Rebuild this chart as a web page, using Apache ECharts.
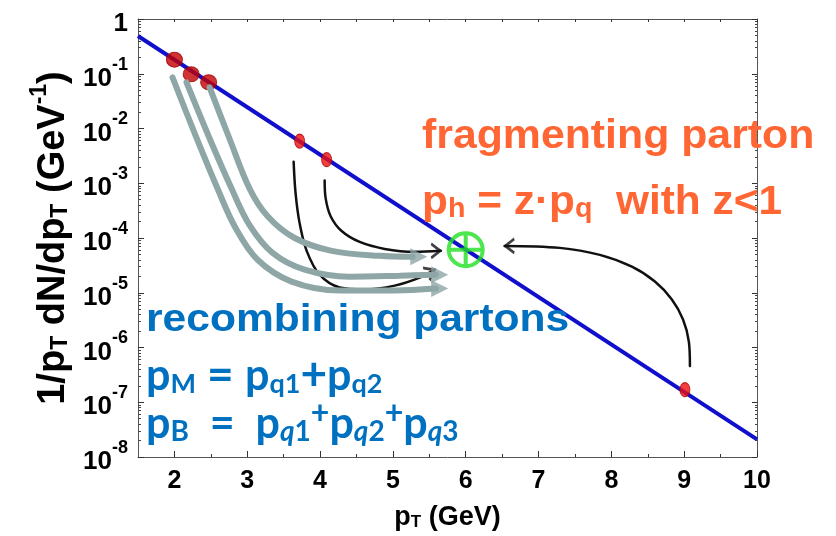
<!DOCTYPE html>
<html><head><meta charset="utf-8">
<script src="https://cdn.jsdelivr.net/npm/echarts@6/dist/echarts.min.js"></script>
<style>html,body{margin:0;padding:0;background:#fff}#c{width:836px;height:536px}</style>
</head><body><div id="c"></div>
<script>
// ---------- data ----------
const xMin = 1.5, xMax = 10;
const yMin = 1e-8, yMax = 1;
const xTickValues = [2, 3, 4, 5, 6, 7, 8, 9, 10];
const xTickLabels = ['2', '3', '4', '5', '6', '7', '8', '9', '10'];
const xHalfTicks = [2.5, 3.5, 4.5, 5.5, 6.5, 7.5, 8.5, 9.5];
const yDecadeExponents = [-8, -7, -6, -5, -4, -3, -2, -1, 0];

// spectrum line (straight on log scale)
const spectrumX = [1.5, 10];
const spectrumY = [0.49, 2.1e-8];

// partons on the spectrum
const partonX = [2.0, 2.23, 2.47, 3.72, 4.09, 9.01];
const partonY = [0.181, 0.098, 0.070, 5.9e-3, 2.7e-3, 1.7e-7];

// hadron marker
const hadronX = [6.0];
const hadronY = [6.1e-5];

// annotation arrow paths [pT, value]
const grayArrowA = [[1.974, 0.0855], [2.276, 8.3e-3], [2.592, 8.0e-4], [2.840, 1.52e-4], [3.142, 4.0e-5], [3.609, 1.60e-5], [4.269, 1.10e-5], [5.025, 1.10e-5], [5.588, 1.19e-5]];
const grayArrowB = [[2.166, 0.0695], [2.469, 7.3e-3], [2.785, 8.0e-4], [3.032, 1.72e-4], [3.348, 5.35e-5], [3.788, 2.64e-5], [4.406, 1.97e-5], [5.094, 2.05e-5], [5.588, 2.14e-5]];
const grayArrowC = [[2.483, 0.0564], [2.757, 6.5e-3], [3.032, 8.0e-4], [3.280, 2.50e-4], [3.651, 1.0e-4], [4.159, 5.82e-5], [4.819, 4.72e-5], [5.272, 4.53e-5]];
const grayHeads = [[5.643, 1.19e-5], [5.643, 2.14e-5], [5.355, 4.53e-5]];

const blackArrowD = [[3.637, 2.48e-3], [3.664, 6.52e-4], [3.719, 1.87e-4], [3.816, 5.82e-5], [3.994, 2.14e-5], [4.269, 1.25e-5], [4.613, 1.15e-5], [5.025, 1.35e-5], [5.368, 1.89e-5], [5.574, 2.64e-5]];
const blackArrowE = [[4.063, 1.12e-3], [4.077, 5.3e-4], [4.145, 2.50e-4], [4.296, 1.34e-4], [4.544, 8.47e-5], [4.887, 6.32e-5], [5.300, 5.58e-5], [5.657, 5.82e-5]];
const blackArrowF = [[9.079, 4.6e-7], [9.065, 1.26e-6], [8.983, 3.28e-6], [8.831, 7.55e-6], [8.598, 1.60e-5], [8.282, 2.99e-5], [7.842, 4.92e-5], [7.292, 6.6e-5], [6.536, 7.16e-5]];
const blackHeads = [[5.514, 2.39e-5], [5.588, 5.82e-5], [6.605, 7.16e-5]];
const blackHeadAngles = [28, 0, 180];

// ---------- styling ----------
const FONT = '"Liberation Sans", Arial, Helvetica, sans-serif';
const RFONT = 'Lato, "Open Sans", sans-serif';
const BLUE_TXT = '#0070c0';
const ORANGE = '#ff6633';
const GRAY = '#8ea6a6';

const yMinorExp = [];
for (let e = -8; e < 0; e++) for (let k = 2; k <= 9; k++) yMinorExp.push(e + Math.log10(k));

const axisRich = {
  b: { fontFamily: FONT, fontWeight: 'bold', fontSize: 26, lineHeight: 36, color: '#000', verticalAlign: 'bottom' },
  s: { fontFamily: FONT, fontWeight: 'bold', fontSize: 18, lineHeight: 18, color: '#000', verticalAlign: 'top' }
};

const partonData = partonX.map((x, i) => {
  const big = i < 3;
  return {
    value: [x, partonY[i]],
    symbolSize: big ? [16, 15] : [10, 14],
    itemStyle: big ? { color: '#c40000', borderColor: '#a00000', borderWidth: 1 }
                   : { color: '#ee1010', borderColor: '#b00000', borderWidth: 1 }
  };
});

function arrowLine(data, color, width, z) {
  return { type: 'line', data: data, smooth: 0.35, symbol: 'none', silent: true, z: z,
           lineStyle: { color: color, width: width, cap: 'round' } };
}

const chart = echarts.init(document.getElementById('c'), null, { renderer: 'canvas' });

const option = {
  backgroundColor: '#ffffff',
  animation: false,
  grid: { left: 138, right: 79, top: 19, bottom: 75, containLabel: false },
  xAxis: [
    { type: 'value', min: xMin, max: xMax, position: 'bottom',
      axisLine: { show: true, onZero: false, lineStyle: { color: '#555', width: 1 } },
      axisTick: { show: true, inside: true, length: 6, customValues: xTickValues, lineStyle: { color: '#333' } },
      axisLabel: { customValues: xTickValues, margin: 12, fontFamily: FONT, fontWeight: 'bold', fontSize: 25, color: '#000',
                   formatter: v => xTickLabels[xTickValues.indexOf(v)] },
      splitLine: { show: false },
      name: '{b|p}{s|T}{b| (GeV)}', nameLocation: 'middle', nameGap: 42,
      nameTextStyle: { rich: {
        b: { fontFamily: FONT, fontWeight: 'bold', fontSize: 27, lineHeight: 32, color: '#000', verticalAlign: 'bottom' },
        s: { fontFamily: FONT, fontWeight: 'bold', fontSize: 17, lineHeight: 15, color: '#000', verticalAlign: 'bottom' } } } },
    { type: 'value', min: xMin, max: xMax, position: 'bottom',
      axisLine: { show: false, onZero: false },
      axisTick: { show: true, inside: true, length: 3, customValues: xHalfTicks, lineStyle: { color: '#333' } },
      axisLabel: { show: false }, splitLine: { show: false } },
    { type: 'value', min: xMin, max: xMax, position: 'top',
      axisLine: { show: true, onZero: false, lineStyle: { color: '#555', width: 1 } },
      axisTick: { show: true, inside: true, length: 3, customValues: xTickValues.concat(xHalfTicks), lineStyle: { color: '#333' } },
      axisLabel: { show: false }, splitLine: { show: false } }
  ],
  yAxis: [
    { type: 'log', logBase: 10, min: yMin, max: yMax, position: 'left',
      axisLine: { show: true, onZero: false, lineStyle: { color: '#555', width: 1 } },
      axisTick: { show: true, inside: true, length: 6, lineStyle: { color: '#333' } },
      axisLabel: { margin: 10, rich: axisRich,
        formatter: v => { const e = Math.round(Math.log10(v)); return e === 0 ? '{b|1}' : '{b|10}{s|' + e + '}'; } },
      splitLine: { show: false },
      name: '{b|1/p}{s|T}{b| dN/dp}{s|T}{b| (GeV}{p|-1}{b|)}', nameLocation: 'middle', nameGap: 60, nameRotate: 90,
      nameTextStyle: { rich: {
        b: { fontFamily: FONT, fontWeight: 'bold', fontSize: 38, lineHeight: 44, color: '#000', verticalAlign: 'bottom' },
        s: { fontFamily: FONT, fontWeight: 'bold', fontSize: 23, lineHeight: 19, color: '#000', verticalAlign: 'bottom' },
        p: { fontFamily: FONT, fontWeight: 'bold', fontSize: 23, lineHeight: 22, color: '#000', verticalAlign: 'top' } } } },
    { type: 'value', min: -8, max: 0, position: 'left',
      axisLine: { show: false, onZero: false },
      axisTick: { show: true, inside: true, length: 3, customValues: yMinorExp, lineStyle: { color: '#444' } },
      axisLabel: { show: false }, splitLine: { show: false } },
    { type: 'value', min: -8, max: 0, position: 'right',
      axisLine: { show: true, onZero: false, lineStyle: { color: '#555', width: 1 } },
      axisTick: { show: true, inside: true, length: 5, customValues: yDecadeExponents, lineStyle: { color: '#333' } },
      axisLabel: { show: false }, splitLine: { show: false } },
    { type: 'value', min: -8, max: 0, position: 'right',
      axisLine: { show: false, onZero: false },
      axisTick: { show: true, inside: true, length: 2, customValues: yMinorExp, lineStyle: { color: '#444' } },
      axisLabel: { show: false }, splitLine: { show: false } }
  ],
  series: [
    { type: 'line', data: spectrumX.map((x, i) => [x, spectrumY[i]]), symbol: 'none', z: 2, silent: true,
      lineStyle: { color: '#1010cc', width: 4 } },
    { type: 'scatter', z: 3, silent: true,
      data: hadronX.map((x, i) => [x, hadronY[i]]),
      symbol: 'path://M16,0A16,16,0,1,1,-16,0A16,16,0,1,1,16,0Z M-16,0L16,0 M0,-16L0,16',
      symbolSize: [34, 33],
      itemStyle: { color: 'rgba(0,0,0,0)', borderColor: '#22e022', borderWidth: 4 } },
    { type: 'scatter', z: 4, silent: true, data: partonData, symbol: 'circle' },
    arrowLine(blackArrowD, '#111', 2.5, 5),
    arrowLine(blackArrowE, '#111', 2.5, 5),
    arrowLine(blackArrowF, '#111', 2.5, 5),
    { type: 'scatter', z: 5, silent: true,
      data: blackHeads.map((p, i) => ({ value: p, symbolRotate: blackHeadAngles[i] })),
      symbol: 'path://M0,0L10,10L0,20', symbolSize: [9, 14],
      itemStyle: { color: 'rgba(0,0,0,0)', borderColor: '#111', borderWidth: 2.5 } },
    arrowLine(grayArrowA, GRAY, 6, 6),
    arrowLine(grayArrowB, GRAY, 6, 6),
    arrowLine(grayArrowC, GRAY, 6, 6),
    { type: 'scatter', z: 6, silent: true,
      data: grayHeads.map(p => ({ value: p, symbolRotate: -90 })),
      symbol: 'triangle', symbolSize: [17, 17],
      itemStyle: { color: GRAY } }
  ],
  graphic: [
    { type: 'text', x: 422, y: 137, scaleX: 1.07, z: 100, silent: true,
      style: { text: 'fragmenting parton', fill: ORANGE, fontFamily: FONT, fontWeight: 'bold', fontSize: 40, verticalAlign: 'middle', align: 'left' } },
    { type: 'text', x: 422, y: 199, scaleX: 1.06, z: 100, silent: true,
      style: { text: '{m|p}{s|h}{m| = z·p}{s|q}{m|  with z<1}', verticalAlign: 'middle', align: 'left',
        rich: {
          m: { fill: ORANGE, fontFamily: FONT, fontWeight: 'bold', fontSize: 40, lineHeight: 48, verticalAlign: 'bottom' },
          s: { fill: ORANGE, fontFamily: FONT, fontWeight: 'bold', fontSize: 27, lineHeight: 24, verticalAlign: 'bottom' } } } },
    { type: 'text', x: 146, y: 321, scaleX: 1.12, z: 100, silent: true,
      style: { text: 'recombining partons', fill: BLUE_TXT, fontFamily: FONT, fontWeight: 'bold', fontSize: 38, verticalAlign: 'middle', align: 'left' } },
    { type: 'text', x: 146, y: 374, z: 100, silent: true,
      style: { text: '{m|p}{s|M}{o| = }{m|p}{s|q1}{o|+}{m|p}{s|q2}', verticalAlign: 'middle', align: 'left',
        rich: {
          m: { fill: BLUE_TXT, fontFamily: RFONT, fontWeight: 'bold', fontSize: 43, lineHeight: 48, verticalAlign: 'bottom' },
          o: { fill: BLUE_TXT, fontFamily: RFONT, fontWeight: 'bold', fontSize: 46, lineHeight: 48, verticalAlign: 'bottom' },
          s: { fill: BLUE_TXT, fontFamily: RFONT, fontWeight: 'bold', fontSize: 27, lineHeight: 24, verticalAlign: 'bottom' } } } },
    { type: 'text', x: 146, y: 422, z: 100, silent: true,
      style: { text: '{m|p}{s|B}{m|  =  p}{i|q}{s|1}{u|+}{m|p}{i|q}{s|2}{u|+}{m|p}{i|q}{s|3}', verticalAlign: 'middle', align: 'left',
        rich: {
          m: { fill: BLUE_TXT, fontFamily: RFONT, fontWeight: 'bold', fontSize: 43, lineHeight: 48, verticalAlign: 'bottom' },
          s: { fill: BLUE_TXT, fontFamily: RFONT, fontWeight: 'bold', fontSize: 28, lineHeight: 24, verticalAlign: 'bottom' },
          i: { fill: BLUE_TXT, fontFamily: RFONT, fontWeight: 'bold', fontStyle: 'italic', fontSize: 28, lineHeight: 24, verticalAlign: 'bottom' },
          u: { fill: BLUE_TXT, fontFamily: RFONT, fontWeight: 'bold', fontSize: 32, lineHeight: 40, verticalAlign: 'top' } } } }
  ]
};
chart.setOption(option);
</script>
</body></html>
